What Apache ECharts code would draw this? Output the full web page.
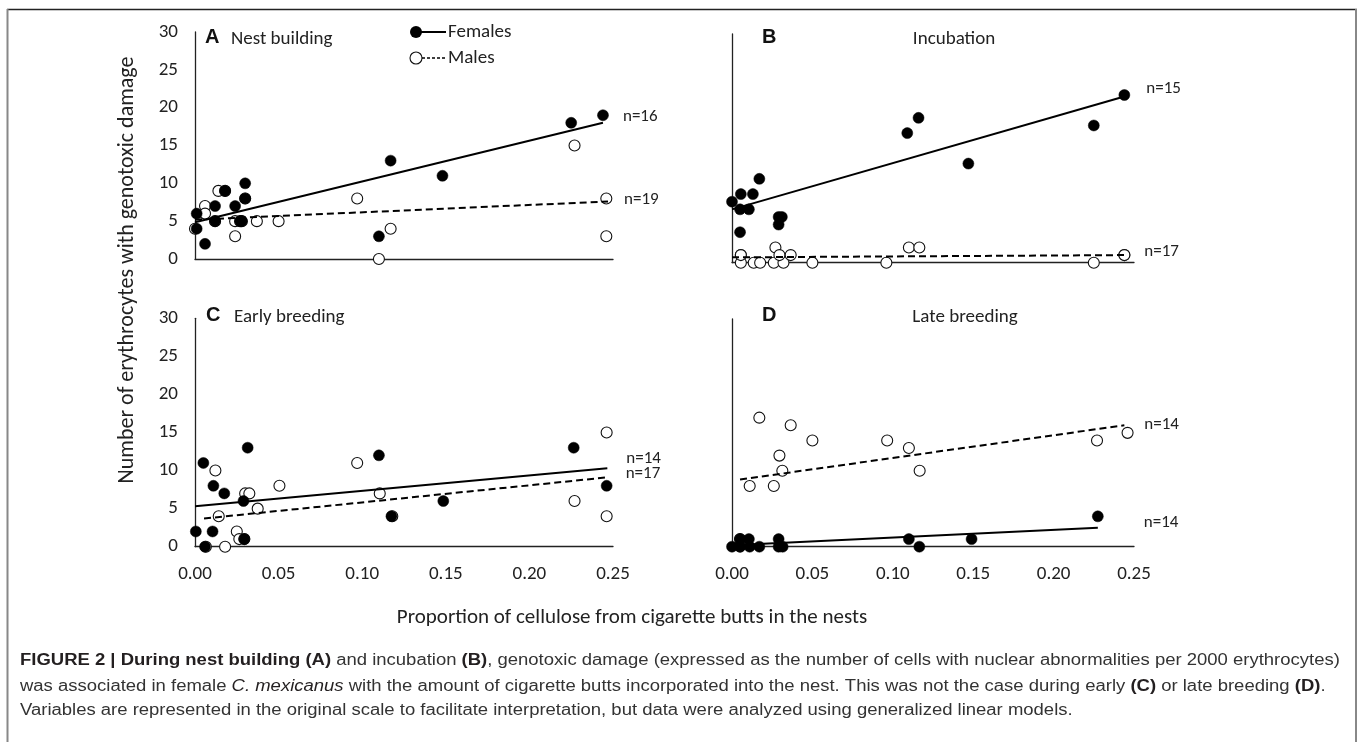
<!DOCTYPE html>
<html><head><meta charset="utf-8">
<script src="https://cdn.jsdelivr.net/npm/echarts@6/dist/echarts.min.js"></script>
<style>html,body{margin:0;padding:0;background:#fff}#c{width:1360px;height:742px}</style>
</head><body><div id="c"></div>
<script>
// ---- data ----
const xTicks = [0, 0.05, 0.10, 0.15, 0.20, 0.25];
const yTicks = [0, 5, 10, 15, 20, 25, 30];
const panelLetters = ['A', 'B', 'C', 'D'];
const panelNames = ['Nest building', 'Incubation', 'Early breeding', 'Late breeding'];

const A_fem = [[0.001,4],[0.001,6],[0.006,2],[0.012,7],[0.012,5],[0.018,9],[0.024,7],[0.027,5],[0.028,5],[0.030,8],[0.030,10],[0.110,3],[0.117,13],[0.148,11],[0.225,18],[0.244,19]];
const A_male = [[0.000,4],[0.006,7],[0.006,6],[0.014,9],[0.018,9],[0.024,3],[0.024,5],[0.027,5],[0.030,8],[0.037,5],[0.050,5],[0.097,8],[0.110,0],[0.117,4],[0.227,15],[0.246,8],[0.246,3],[0.012,5],[0.028,5]];
const A_fitF = [[0,4.85],[0.244,18]];
const A_fitM = [[0,5.2],[0.247,7.6]];

const B_fem = [[0,8],[0.0055,9],[0.005,7],[0.0105,7],[0.013,9],[0.017,11],[0.005,4],[0.029,6],[0.031,6],[0.029,5],[0.109,17],[0.116,19],[0.147,13],[0.225,18],[0.244,22]];
const B_male = [[0.0055,1],[0.0055,0],[0.0135,0],[0.0175,0],[0.026,0],[0.032,0],[0.027,2],[0.0295,1],[0.0365,1],[0.050,0],[0.096,0],[0.110,2],[0.1165,2],[0.225,0],[0.244,1],[0.0055,1],[0.244,1]];
const B_fitF = [[0,7.0],[0.244,21.8]];
const B_fitM = [[0,0.7],[0.244,1.0]];

const C_fem = [[0.0005,2],[0.005,11],[0.006,0],[0.011,8],[0.0105,2],[0.0175,7],[0.029,6],[0.0295,1],[0.0315,13],[0.110,12],[0.1175,4],[0.1485,6],[0.2265,13],[0.2462,8]];
const C_male = [[0.0065,0],[0.0122,10],[0.0142,4],[0.018,0],[0.025,2],[0.0265,1],[0.030,7],[0.0325,7],[0.0375,5],[0.0505,8],[0.097,11],[0.1105,7],[0.118,4],[0.227,6],[0.2462,15],[0.2462,4],[0.0295,1]];
const C_fitF = [[0,5.3],[0.2466,10.3]];
const C_fitM = [[0.0054,3.7],[0.2462,9.1]];

const D_fem = [[0,0],[0.005,0],[0.005,1],[0.0105,1],[0.011,0],[0.017,0],[0.029,1],[0.029,0],[0.0315,0],[0.110,1],[0.1165,0],[0.149,1],[0.2275,4],[0.005,0]];
const D_male = [[0.017,17],[0.0365,16],[0.050,14],[0.0295,12],[0.0313,10],[0.011,8],[0.026,8],[0.0965,14],[0.110,13],[0.1167,10],[0.227,14],[0.246,15],[0.005,1]];
const D_fitF = [[0,0.2],[0.2275,2.5]];
const D_fitM = [[0.005,8.85],[0.244,16]];

const nLabelsF = ['n=16', 'n=15', 'n=14', 'n=14'];
const nLabelsM = ['n=19', 'n=17', 'n=17', 'n=14'];

// ---- build ----
const FONT = 'Carlito, Lato, sans-serif';
const femSets = [A_fem, B_fem, C_fem, D_fem];
const maleSets = [A_male, B_male, C_male, D_male];
const fitF = [A_fitF, B_fitF, C_fitF, D_fitF];
const fitM = [A_fitM, B_fitM, C_fitM, D_fitM];
const offF = [[20,-6],[22,-8],[19,-10],[46,-5]];
const offM = [[16,-2],[20,-3],[19,-4],[20,-1]];

const grids = [
  {left:195, top:32, width:418, height:227},
  {left:732, top:34, width:402, height:228.7},
  {left:195, top:318.3, width:418, height:228.4},
  {left:732, top:319, width:402, height:227.7}
];
const axLine = {show:true, onZero:false, lineStyle:{color:'#222', width:1.3}};
const xAxis = [], yAxis = [], series = [];
grids.forEach((g, i) => {
  xAxis.push({type:'value', gridIndex:i, min:0, max:0.25, interval:0.05,
    axisLine:axLine, axisTick:{show:false}, splitLine:{show:false},
    axisLabel:{show:i >= 2, margin:18, color:'#222', fontSize:19, fontFamily:FONT,
      formatter:v => v.toFixed(2)}});
  yAxis.push({type:'value', gridIndex:i, min:0, max:30, interval:5,
    axisLine:axLine, axisTick:{show:false}, splitLine:{show:false},
    axisLabel:{show:i % 2 === 0, margin:17, color:'#222', fontSize:19, fontFamily:FONT}});
  series.push({type:'scatter', xAxisIndex:i, yAxisIndex:i, data:maleSets[i], symbol:'circle', symbolSize:11,
    clip:false, z:3, itemStyle:{color:'#fff', borderColor:'#111', borderWidth:1.1, opacity:1}});
  series.push({type:'scatter', xAxisIndex:i, yAxisIndex:i, data:femSets[i], symbol:'circle', symbolSize:11,
    clip:false, z:4, itemStyle:{color:'#000', borderColor:'#000', borderWidth:0.5, opacity:1}});
  series.push({type:'line', xAxisIndex:i, yAxisIndex:i, data:fitF[i], symbol:'none', z:5, clip:false,
    lineStyle:{color:'#000', width:2},
    endLabel:{show:true, formatter:nLabelsF[i], distance:0, offset:offF[i], color:'#222', fontSize:17, fontFamily:FONT}});
  series.push({type:'line', xAxisIndex:i, yAxisIndex:i, data:fitM[i], symbol:'none', z:5, clip:false,
    lineStyle:{color:'#000', width:2, type:[7,4]},
    endLabel:{show:true, formatter:nLabelsM[i], distance:0, offset:offM[i], color:'#222', fontSize:17, fontFamily:FONT}});
});

const titlePos = [
  {lx:205, nx:231, y:39, center:false},
  {lx:762, nx:954, y:39, center:true},
  {lx:206, nx:234, y:317, center:false},
  {lx:762, nx:965, y:317, center:true}
];
const graphic = [];
titlePos.forEach((p, i) => {
  graphic.push({type:'text', left:p.lx, top:p.y - 12, style:{text:panelLetters[i], font:'bold 20px Liberation Sans, Arial, sans-serif', fill:'#111'}});
  graphic.push({type:'text', x:p.nx, y:p.y, style:{text:panelNames[i], font:'19px ' + FONT, fill:'#222',
    textAlign:p.center ? 'center' : 'left', textVerticalAlign:'middle'}});
});
// legend
graphic.push({type:'circle', shape:{cx:416, cy:32, r:6}, style:{fill:'#000'}});
graphic.push({type:'line', shape:{x1:421, y1:32, x2:446, y2:32}, style:{stroke:'#000', lineWidth:2}});
graphic.push({type:'text', x:448, y:32, style:{text:'Females', font:'19px ' + FONT, fill:'#222', textVerticalAlign:'middle'}});
graphic.push({type:'circle', shape:{cx:416, cy:58, r:6}, style:{fill:'#fff', stroke:'#111', lineWidth:1.1}});
graphic.push({type:'line', shape:{x1:422, y1:58, x2:446, y2:58}, style:{stroke:'#000', lineWidth:1.5, lineDash:[3,2]}});
graphic.push({type:'text', x:448, y:58, style:{text:'Males', font:'19px ' + FONT, fill:'#222', textVerticalAlign:'middle'}});
// axis titles
graphic.push({type:'text', x:127, y:270, rotation:Math.PI/2, style:{text:'Number of erythrocytes with genotoxic damage',
  font:'22px ' + FONT, fill:'#222', textAlign:'center', textVerticalAlign:'middle'}});
graphic.push({type:'text', x:632, y:618, style:{text:'Proportion of cellulose from cigarette butts in the nests',
  font:'21px ' + FONT, fill:'#222', textAlign:'center', textVerticalAlign:'middle'}});
// frame
graphic.push({type:'line', shape:{x1:7, y1:9.5, x2:1357, y2:9.5}, style:{stroke:'#222', lineWidth:1.5}});
graphic.push({type:'line', shape:{x1:7.5, y1:9, x2:7.5, y2:742}, style:{stroke:'#888', lineWidth:2}});
graphic.push({type:'line', shape:{x1:1356, y1:9, x2:1356, y2:742}, style:{stroke:'#888', lineWidth:2}});
// caption
const capRich = {
  b:{fontFamily:'Liberation Sans, Arial, sans-serif', fontWeight:'bold', fontSize:16, fill:'#231f20'},
  i:{fontFamily:'Liberation Sans, Arial, sans-serif', fontStyle:'italic', fontSize:16, fill:'#231f20'}
};
const capLines = [
  '{b|FIGURE 2 | During nest building (A)} and incubation {b|(B)}, genotoxic damage (expressed as the number of cells with nuclear abnormalities per 2000 erythrocytes)',
  'was associated in female {i|C. mexicanus} with the amount of cigarette butts incorporated into the nest. This was not the case during early {b|(C)} or late breeding {b|(D)}.',
  'Variables are represented in the original scale to facilitate interpretation, but data were analyzed using generalized linear models.'
];
const capY = [661, 687, 711];
capLines.forEach((t, k) => {
  graphic.push({type:'text', x:20, y:capY[k], scaleX:1.155, style:{text:t, rich:capRich, font:'16px Liberation Sans, Arial, sans-serif',
    fill:'#333', textVerticalAlign:'middle'}});
});

const chart = echarts.init(document.getElementById('c'), null, {renderer:'canvas'});
chart.setOption({animation:false, backgroundColor:'#fff', grid:grids, xAxis, yAxis, series, graphic});
</script></body></html>
